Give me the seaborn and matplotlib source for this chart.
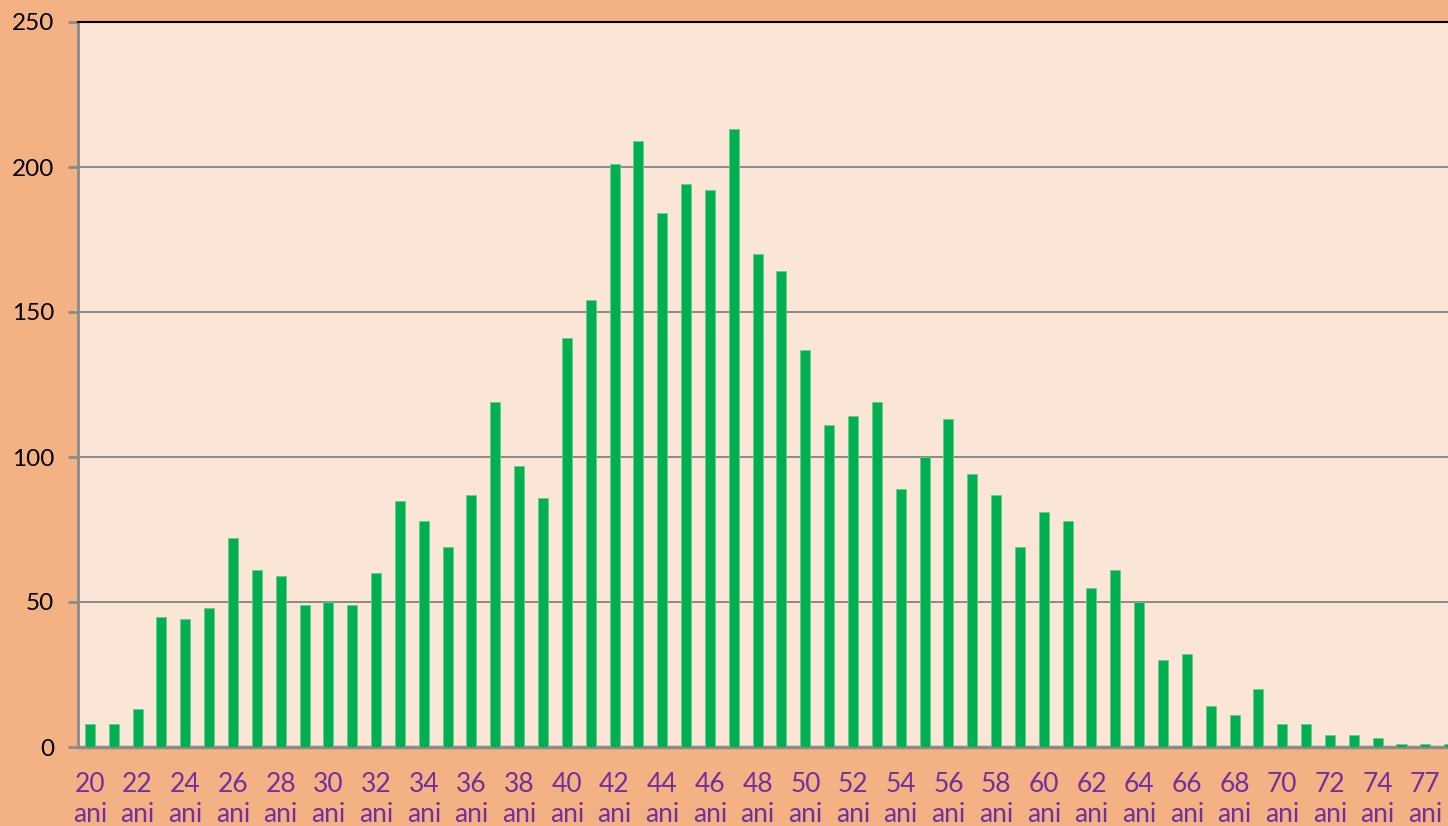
import matplotlib
matplotlib.use("Agg")
import matplotlib.pyplot as plt
import seaborn as sns
import pandas as pd

ages = list(range(20, 76)) + [77, 78]
counts = [8, 8, 13, 45, 44, 48, 72, 61, 59, 49,
          50, 49, 60, 85, 78, 69, 87, 119, 97, 86,
          141, 154, 201, 209, 184, 194, 192, 213, 170, 164,
          137, 111, 114, 119, 89, 100, 113, 94, 87, 69,
          81, 78, 55, 61, 50, 30, 32, 14, 11, 20,
          8, 8, 4, 4, 3, 1, 1, 1]
labels = [f"{a}\nani" for a in ages]
yticks = [0, 50, 100, 150, 200, 250]

outer_bg = "#F4B183"
plot_bg = "#FBE5D6"
bar_col = "#00B050"
label_col = "#7030A0"

sns.set_theme(style="white")
plt.rcParams["font.family"] = ["Lato", "DejaVu Sans"]

df = pd.DataFrame({"age": labels, "count": counts})

fig = plt.figure(figsize=(14.48, 8.26), dpi=100, facecolor=outer_bg)
ax = fig.add_axes([78 / 1448, 79 / 826, 1 - 78 / 1448, 725 / 826])
ax.set_facecolor(plot_bg)

sns.barplot(data=df, x="age", y="count", order=labels, color=bar_col,
            width=0.42, saturation=1, edgecolor="#5fd08a", linewidth=0.6, ax=ax, zorder=3)

ax.set_yticks(yticks)
ax.set_yticklabels([str(v) for v in yticks], fontsize=17.5, color="black")
ax.yaxis.grid(True, color="#8a8a8a", linewidth=1.4, zorder=1)
ax.xaxis.grid(False)

ax.set_xticks(range(len(labels)))
ax.set_xticklabels([l if i % 2 == 0 else "" for i, l in enumerate(labels)],
                   fontsize=19, color=label_col, linespacing=1.25, va="top")
ax.tick_params(axis="x", which="major", length=0, pad=18)
ax.set_xticks([i + 0.5 for i in range(-1, len(labels))], minor=True)
ax.tick_params(axis="x", which="minor", length=7, width=2, color="#8a8a8a", direction="out")
ax.tick_params(axis="y", length=7, width=2, color="#8a8a8a", direction="out", pad=10, left=True)

# limits last: set_xticks widens the view
ax.set_ylim(0, 250)
ax.set_xlim(-0.5, 56.95)

ax.set_xlabel("")
ax.set_ylabel("")
ax.spines["right"].set_visible(False)
ax.spines["top"].set_color("black")
ax.spines["top"].set_linewidth(1.5)
ax.spines["left"].set_color("#8a8a8a")
ax.spines["left"].set_linewidth(2)
ax.spines["bottom"].set_color("#8a8a8a")
ax.spines["bottom"].set_linewidth(2.5)

fig.savefig("out.png", dpi=100, facecolor=outer_bg)
